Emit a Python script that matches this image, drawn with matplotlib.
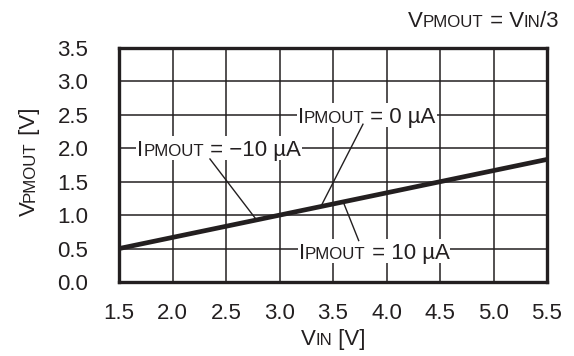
import numpy as np
import matplotlib
matplotlib.use('Agg')
import matplotlib.pyplot as plt
from matplotlib.transforms import IdentityTransform
from matplotlib.patches import Rectangle

plt.rcParams['font.family'] = 'Liberation Sans'

# data
vin = [1.5, 5.5]
vpmout = [0.5, 1.8333]
xticks = [1.5, 2.0, 2.5, 3.0, 3.5, 4.0, 4.5, 5.0, 5.5]
yticks = [0.0, 0.5, 1.0, 1.5, 2.0, 2.5, 3.0, 3.5]

# current labels: text, left x, y, leader line (x0, y0, x1, y1)
lab_text = ['0 µA', '\u221210 µA', '10 µA']
lab_xy = [(3.17, 2.5), (1.67, 2.0), (3.18, 0.46)]
lab_lead = [(3.78, 2.36, 3.39, 1.14), (2.35, 1.84, 2.78, 0.94), (3.60, 1.18, 3.74, 0.62)]

fs = 16
sc = 0.76  # small caps size ratio

fig = plt.figure(figsize=(5.74, 3.56), dpi=100)
ax = fig.add_axes([119/574, (356-282)/356, 428/574, 234/356])
r = fig.canvas.get_renderer()


def width(s, size):
    # measure with sentinels so leading/trailing spaces count
    t1 = fig.text(0, 0, '|' + s + '|', fontsize=size)
    t2 = fig.text(0, 0, '||', fontsize=size)
    w = t1.get_window_extent(r).width - t2.get_window_extent(r).width
    t1.remove()
    t2.remove()
    return w


def rich(x, y, parts, trans, ha='left', rot=0, bg=False, vcenter=False):
    px, py = trans.transform((x, y))
    lens = [width(s, fs*k) for s, k in parts]
    total = sum(lens)
    start = {'left': 0, 'center': -total/2, 'right': -total}[ha]
    cap = 0.72 * fs * 100 / 72
    if vcenter:
        py = py - cap/2
    pos = start
    for (s, k), L in zip(parts, lens):
        if rot:
            xy = (px, py + pos)
        else:
            xy = (px + pos, py)
        ax.text(xy[0], xy[1], s, fontsize=fs*k, transform=IdentityTransform(),
                rotation=rot, rotation_mode='anchor', ha='left', va='baseline',
                zorder=5, clip_on=False, color='#231f20')
        pos += L
    if bg:
        rect = Rectangle((px + start - 1, py - 0.25*cap), total + 2, 1.5*cap,
                         transform=IdentityTransform(), fc='white', ec='none',
                         zorder=1.5)
        ax.add_patch(rect)


ax.plot(vin, vpmout, color='#231f20', lw=3.4, zorder=3, solid_capstyle='butt')

for (x0, y0, x1, y1) in lab_lead:
    ax.plot([x0, x1], [y0, y1], color='#231f20', lw=1.0, zorder=2)

ax.set_xlim(1.5, 5.5)
ax.set_ylim(0, 3.5)
ax.set_xticks(xticks)
ax.set_yticks(yticks)
ax.set_xticklabels(['%.1f' % v for v in xticks])
ax.set_yticklabels(['%.1f' % v for v in yticks])
ax.tick_params(length=0, labelsize=fs, colors='#231f20')
ax.tick_params(axis='x', pad=15)
ax.tick_params(axis='y', pad=22)
ax.set_axisbelow(True)
ax.grid(True, color='#231f20', lw=1.1)
for sp in ax.spines.values():
    sp.set_linewidth(2.4)
    sp.set_color('#231f20')

for txt, (x, y) in zip(lab_text, lab_xy):
    rich(x, y, [('I', 1), ('PMOUT', sc), (' = ' + txt, 1)], ax.transData,
         bg=True, vcenter=True)

# axis titles
rich(333/574, (356-345)/356, [('V', 1), ('IN', sc), (' [V]', 1)],
     fig.transFigure, ha='center')
rich(35/574, (356-162)/356, [('V', 1), ('PMOUT', sc), (' [V]', 1)],
     fig.transFigure, ha='center', rot=90)
rich(559/574, (356-27)/356, [('V', 1), ('PMOUT', sc), (' = V', 1), ('IN', sc), ('/3', 1)],
     fig.transFigure, ha='right')

fig.savefig('out.png', dpi=100)
